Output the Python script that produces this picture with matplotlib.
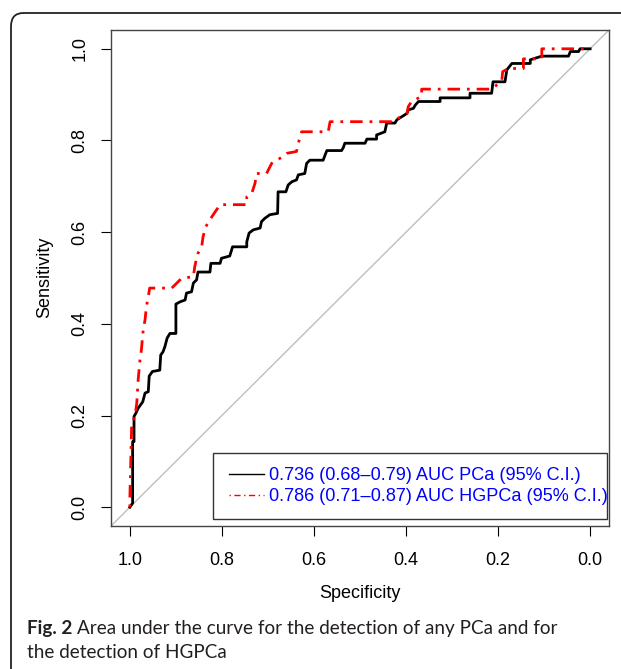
import matplotlib
matplotlib.use("Agg")
import matplotlib.pyplot as plt
from matplotlib.lines import Line2D
from matplotlib.patches import Rectangle, FancyBboxPatch

plt.rcParams['font.family'] = ['Liberation Sans', 'DejaVu Sans']

# ROC curve for any PCa (specificity, sensitivity)
pca_spec = [1.000, 0.994, 0.994, 0.991, 0.991, 0.987, 0.982, 0.977, 0.972, 0.967,
            0.960, 0.958, 0.951, 0.935, 0.933, 0.928, 0.924, 0.919, 0.913, 0.900,
            0.900, 0.891, 0.880, 0.877, 0.866, 0.862, 0.855, 0.852, 0.826, 0.824,
            0.804, 0.801, 0.783, 0.779, 0.777, 0.746, 0.746, 0.741, 0.732, 0.717,
            0.714, 0.707, 0.696, 0.679, 0.678, 0.661, 0.656, 0.648, 0.638, 0.634,
            0.620, 0.616, 0.609, 0.580, 0.576, 0.572, 0.540, 0.536, 0.533, 0.489,
            0.485, 0.464, 0.464, 0.446, 0.442, 0.424, 0.420, 0.409, 0.398, 0.395,
            0.384, 0.380, 0.373, 0.326, 0.326, 0.261, 0.261, 0.214, 0.211, 0.185,
            0.181, 0.170, 0.130, 0.130, 0.105, 0.047, 0.043, 0.025, 0.022, 0.000]
pca_sens = [0.000, 0.009, 0.143, 0.143, 0.198, 0.205, 0.216, 0.223, 0.230, 0.249,
            0.252, 0.286, 0.296, 0.299, 0.332, 0.339, 0.350, 0.369, 0.379, 0.379,
            0.443, 0.448, 0.452, 0.467, 0.470, 0.489, 0.496, 0.513, 0.513, 0.532,
            0.532, 0.543, 0.548, 0.561, 0.568, 0.568, 0.579, 0.598, 0.605, 0.609,
            0.623, 0.630, 0.638, 0.641, 0.688, 0.688, 0.703, 0.710, 0.714, 0.725,
            0.728, 0.750, 0.757, 0.757, 0.768, 0.778, 0.778, 0.785, 0.794, 0.794,
            0.803, 0.803, 0.812, 0.819, 0.838, 0.838, 0.845, 0.852, 0.859, 0.867,
            0.870, 0.877, 0.885, 0.885, 0.893, 0.893, 0.903, 0.903, 0.928, 0.928,
            0.954, 0.968, 0.968, 0.976, 0.984, 0.984, 0.994, 0.994, 1.000, 1.000]

# ROC curve for HGPCa
hg_spec = [1.000, 1.000, 0.996, 0.989, 0.985, 0.982, 0.978, 0.975, 0.971, 0.967,
           0.964, 0.960, 0.957, 0.909, 0.898, 0.888, 0.862, 0.859, 0.855, 0.852,
           0.844, 0.841, 0.835, 0.826, 0.819, 0.804, 0.746, 0.746, 0.735, 0.728,
           0.725, 0.703, 0.692, 0.674, 0.659, 0.638, 0.634, 0.627, 0.569, 0.565,
           0.428, 0.424, 0.398, 0.395, 0.388, 0.366, 0.366, 0.214, 0.192, 0.190,
           0.178, 0.145, 0.145, 0.105, 0.105, 0.000]
hg_sens = [0.000, 0.020, 0.184, 0.198, 0.227, 0.278, 0.321, 0.343, 0.387, 0.409,
           0.438, 0.459, 0.478, 0.478, 0.489, 0.499, 0.503, 0.525, 0.543, 0.554,
           0.568, 0.590, 0.612, 0.627, 0.638, 0.660, 0.660, 0.677, 0.685, 0.707,
           0.728, 0.728, 0.750, 0.761, 0.772, 0.776, 0.794, 0.819, 0.819, 0.841,
           0.841, 0.845, 0.859, 0.874, 0.885, 0.896, 0.912, 0.912, 0.930, 0.950,
           0.957, 0.957, 0.978, 0.978, 1.000, 1.000]

labels = ['0.736 (0.68\u20130.79) AUC PCa (95% C.I.)',
          '0.786 (0.71\u20130.87) AUC HGPCa (95% C.I.)']
ticks = [1.0, 0.8, 0.6, 0.4, 0.2, 0.0]
caption_bold = 'Fig. 2'
caption_line1 = 'Area under the curve for the detection of any PCa and for'
caption_line2 = 'the detection of HGPCa'

W, H = 621, 669
fig = plt.figure(figsize=(W / 100, H / 100), dpi=100)
ax = fig.add_axes([111 / W, 1 - 526 / H, 498 / W, 496 / H])

ax.axline((1, 0), (0, 1), color='#bebebe', lw=1, zorder=1)
ax.plot(pca_spec, pca_sens, color='black', lw=2.0, zorder=3)
ax.plot(hg_spec, hg_sens, color='red', lw=2.0, linestyle=(0, (1, 2.5, 4.5, 2.5)), zorder=4)

ax.set_xlim(1.041, -0.041)
ax.set_ylim(-0.041, 1.041)
ax.set_xticks(ticks)
ax.set_xticklabels(['%.1f' % t for t in ticks])
ax.set_yticks(ticks)
ax.set_yticklabels(['%.1f' % t for t in ticks], rotation=90, va='center')
ax.tick_params(axis='both', length=7.2, width=0.8, labelsize=13, direction='out')
ax.tick_params(axis='x', pad=11.5)
ax.tick_params(axis='y', pad=9)
for s in ax.spines.values():
    s.set_color('#444444')
    s.set_linewidth(1.0)

ax.set_xlabel('Specificity', fontsize=13)
ax.set_ylabel('Sensitivity', fontsize=13)
ax.xaxis.set_label_coords(0.5, -(593 - 526) / 496)
ax.xaxis.label.set_va('center')
ax.yaxis.set_label_coords((45 - 111) / 498, 0.502)
ax.yaxis.label.set_va('center')

# legend box (narrower than its text, as in the original)
ax.add_patch(Rectangle((0.204, 0.0141), 0.791, 0.1337, transform=ax.transAxes,
                       facecolor='white', edgecolor='#333333', lw=1.0, zorder=5))
handles = [Line2D([], [], color='black', lw=1.0),
           Line2D([], [], color='red', lw=1.0, linestyle=(0, (1, 2.5, 4.5, 2.5)))]
leg = ax.legend(handles, labels, loc='center left', bbox_to_anchor=(0.237, 0.080),
                frameon=False, fontsize=13.1, labelcolor='blue', handlelength=1.92,
                handletextpad=0.3, labelspacing=0.22, borderpad=0, borderaxespad=0)
leg.set_zorder(6)

# outer rounded border
fig.patches.append(FancyBboxPatch((11 / W, -0.2), 1.2, 1 - 13 / H + 0.2,
                                  boxstyle='round,pad=0,rounding_size=0.02',
                                  transform=fig.transFigure, facecolor='none',
                                  edgecolor='#222222', lw=1.3))

# caption
cap_font = ['Lato', 'DejaVu Sans']
t1 = fig.text(27 / W, 1 - 634 / H, caption_bold, fontsize=13.6, fontweight='bold',
              family=cap_font, va='baseline', color='#231f20')
fig.canvas.draw()
bb = t1.get_window_extent()
fig.text((bb.x1 + 5) / W, 1 - 634 / H, caption_line1, fontsize=13.6,
         family=cap_font, va='baseline', color='#231f20')
fig.text(27 / W, 1 - 658 / H, caption_line2, fontsize=13.6,
         family=cap_font, va='baseline', color='#231f20')

fig.savefig('out.png', dpi=100)
